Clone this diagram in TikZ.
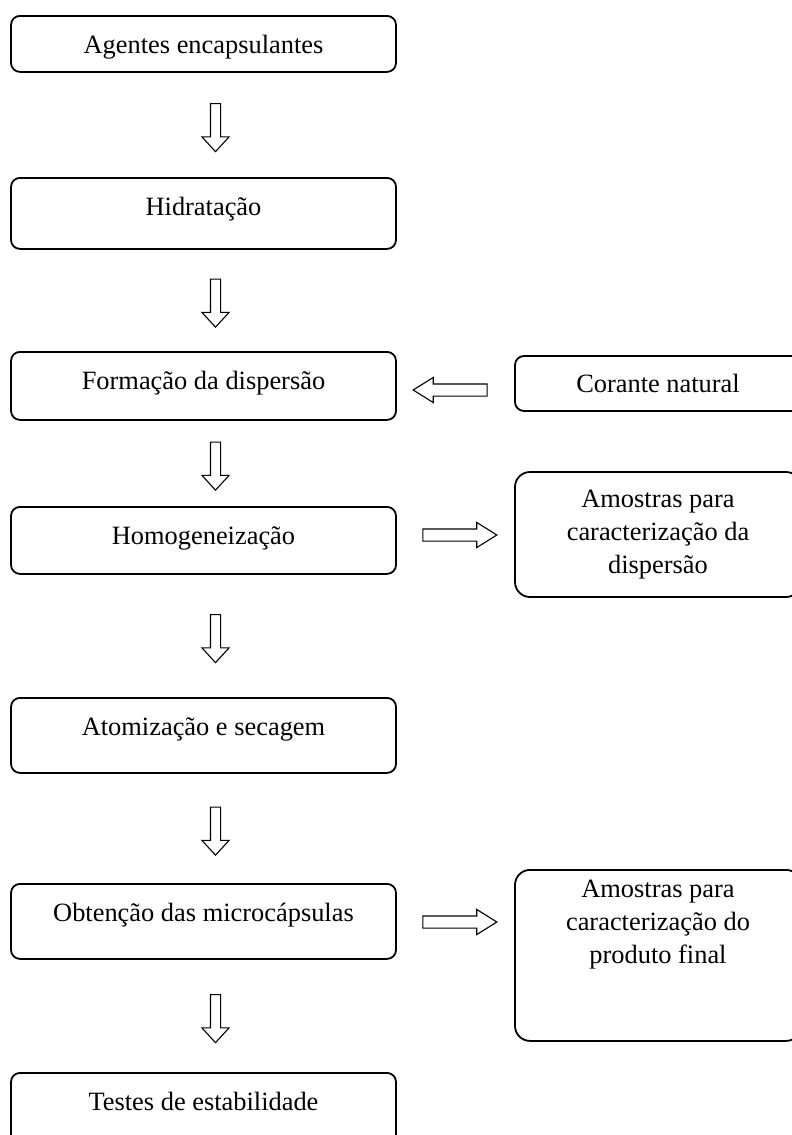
\documentclass[tikz,border=0pt]{standalone}
\usepackage{fontspec}
\setmainfont{Liberation Serif}
\usetikzlibrary{shapes.arrows,calc}

\begin{document}
\begin{tikzpicture}[x=1pt,y=-1pt,
    font=\fontsize{26.4}{33}\selectfont,
    stage/.style={draw, line width=1.8pt, rounded corners=9pt, minimum width=385pt,
      inner ysep=0pt, text height=38pt, text depth=#1, anchor=north},
    side/.style={draw, line width=1.8pt, rounded corners=#1, minimum width=286pt,
      align=center},
    down/.style={single arrow, draw, line width=1.1pt, inner sep=4.5pt,
      minimum width=26pt, minimum height=48pt, single arrow head extend=8.5pt,
      single arrow tip angle=85, shape border rotate=270},
    across/.style={single arrow, draw, line width=1.1pt, inner sep=5.5pt,
      minimum width=24pt, minimum height=74pt, single arrow head extend=6.5pt,
      single arrow tip angle=64, shape border rotate=#1}]
  \useasboundingbox (0,0) rectangle (792,1135);
  % process steps
  \node[stage=18pt] (b1) at (203.5,15) {Agentes encapsulantes};
  \node[stage=33pt] (b2) at (203.5,177) {Hidratação};
  \node[stage=30pt] (b3) at (203.5,351) {Formação da dispersão};
  \node[stage=29pt] (b4) at (203.5,506) {Homogeneização};
  \node[stage=37pt] (b5) at (203.5,697) {Atomização e secagem};
  \node[stage=37pt] (b6) at (203.5,883) {Obtenção das microcápsulas};
  \node[stage=37pt] (b7) at (203.5,1072) {Testes de estabilidade};
  % side boxes
  \node[side=9pt, minimum height=55pt] (cor) at (658,383.5) {Corante natural};
  \node[side=15pt, minimum height=125pt] (am1) at (658,534.5)
    {Amostras para\\caracterização da\\dispersão};
  \node[side=15pt, inner ysep=0pt, text height=94pt, text depth=77pt, anchor=north]
    (am2) at (658,869) {Amostras para\\caracterização do\\produto final};
  % block arrows
  \node[down] (a1) at ($(b1.south)!.5!(b2.north)+(12,0)$) {};
  \node[down] (a2) at ($(b2.south)!.5!(b3.north)+(12,0)$) {};
  \node[down] (a3) at ($(b3.south)!.5!(b4.north)+(12,0)$) {};
  \node[down] (a4) at ($(b4.south)!.5!(b5.north)+(12,0)$) {};
  \node[down] (a5) at ($(b5.south)!.5!(b6.north)+(12,0)$) {};
  \node[down] (a6) at ($(b6.south)!.5!(b7.north)+(12,0)$) {};
  \node[across=180] (l1) at (455,390) {};
  \node[across=0] (r1) at (455,535) {};
  \node[across=0] (r2) at (455,922) {};
\end{tikzpicture}
\end{document}
